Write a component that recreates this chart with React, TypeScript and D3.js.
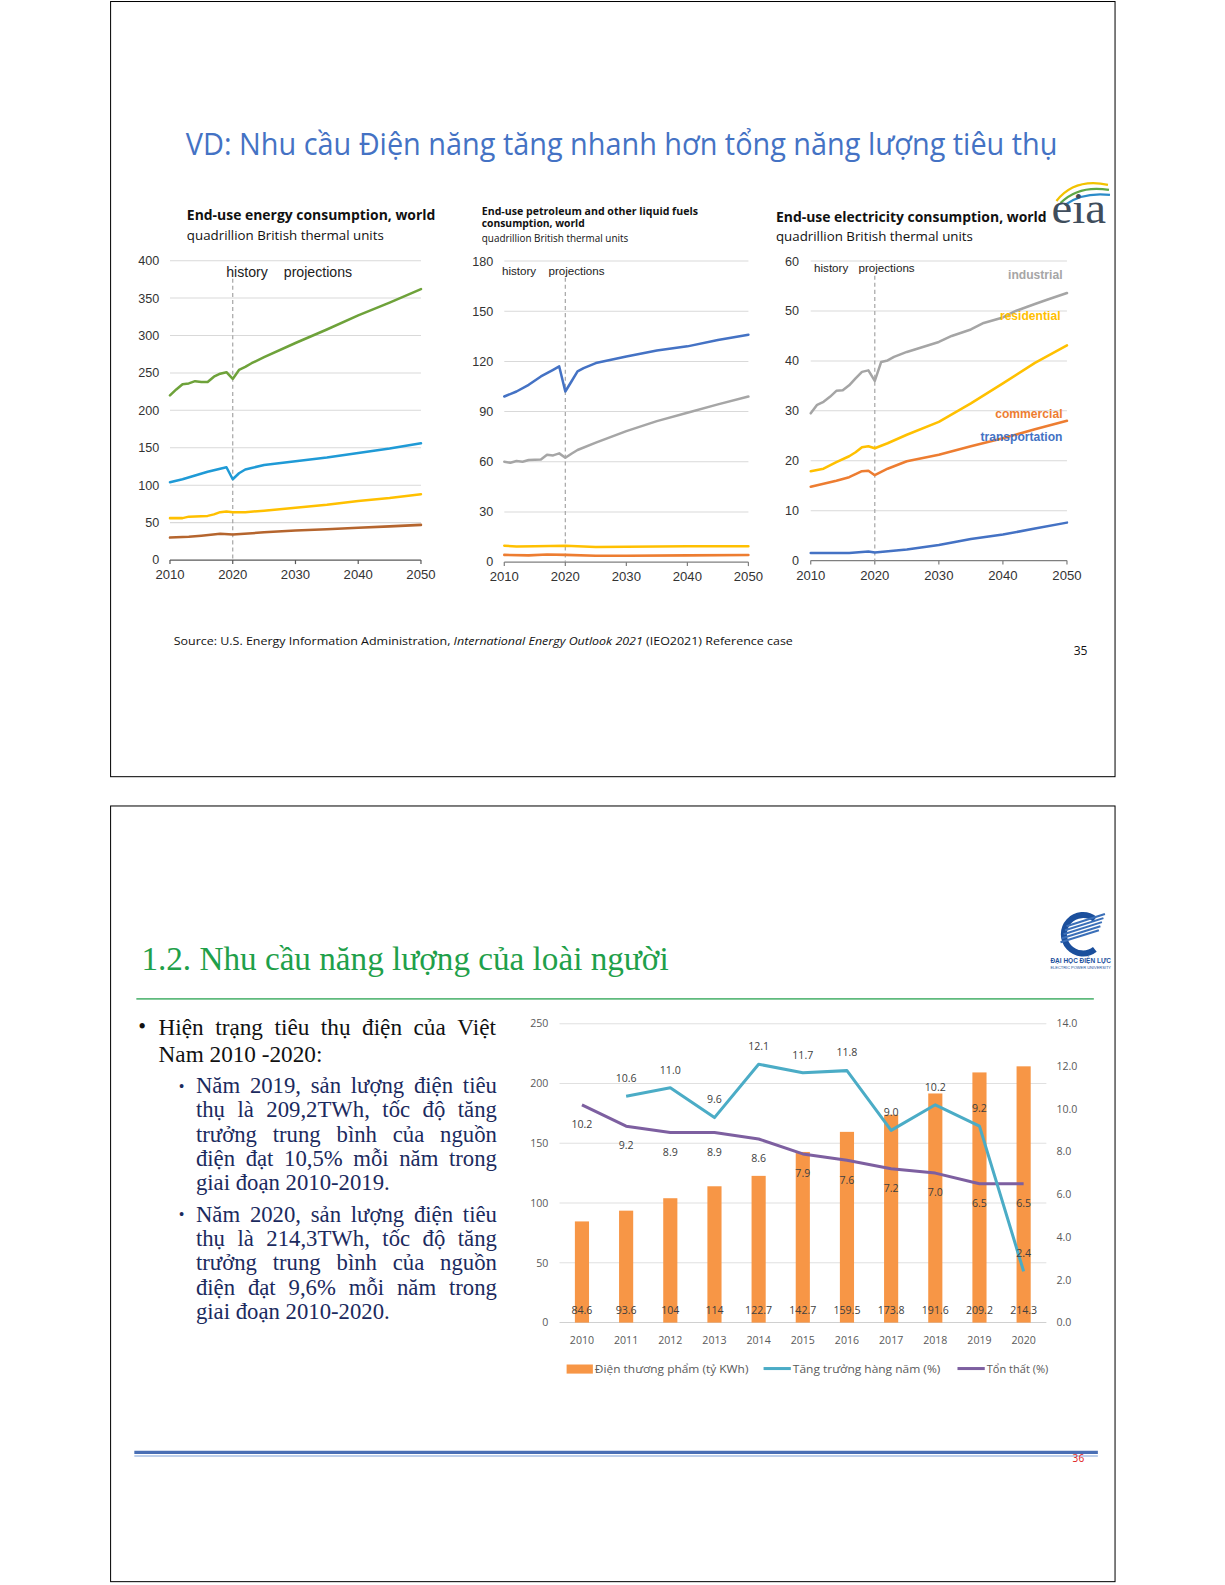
import React, { useLayoutEffect, useRef } from "react";
import * as d3 from "d3";

type Pt = [number, number];

// ---------- Slide 1 data ----------
const xTicksYears = [2010, 2020, 2030, 2040, 2050];

const c1Ticks = [0, 50, 100, 150, 200, 250, 300, 350, 400];
const c1Green: Pt[] = [[2010,220],[2011,228],[2012,235],[2013,236],[2014,239],[2015,238],[2016,238],[2017,245],[2018,249],[2019,251],[2020,242],[2021,254],[2022,258],[2023,263],[2025,271],[2030,290],[2035,308],[2040,327],[2045,344],[2050,362]];
const c1Blue: Pt[] = [[2010,104],[2012,108],[2014,113],[2016,118],[2018,122],[2019,124],[2020,108],[2021,116],[2022,121],[2023,123],[2025,127],[2030,132],[2035,137],[2040,143],[2045,149],[2050,156]];
const c1Yellow: Pt[] = [[2010,56],[2012,56],[2013,58],[2016,59],[2017,61],[2018,64],[2019,65],[2020,64],[2022,64],[2025,66],[2030,70],[2035,74],[2040,79],[2045,83],[2050,88]];
const c1Brown: Pt[] = [[2010,30],[2013,31],[2015,32.5],[2018,35],[2020,34],[2025,37],[2030,39.5],[2035,41],[2040,43],[2045,45],[2050,47]];

const c2Ticks = [0, 30, 60, 90, 120, 150, 180];
const c2Blue: Pt[] = [[2010,99],[2012,102],[2014,106],[2016,111],[2017,113],[2018,115],[2019,117],[2020,102],[2021,108],[2022,114],[2023,116],[2025,119],[2030,123],[2035,126.5],[2040,129],[2045,132.8],[2050,136]];
const c2Gray: Pt[] = [[2010,60],[2011,59.4],[2012,60.4],[2013,60],[2014,61],[2016,61.4],[2017,64.2],[2018,63.8],[2019,65],[2020,62.4],[2021,64.8],[2022,67],[2025,71.4],[2030,78.3],[2035,84.3],[2040,89.3],[2045,94.3],[2050,99]];
const c2Yellow: Pt[] = [[2010,9.8],[2012,9.3],[2015,9.4],[2020,9.8],[2025,9.0],[2030,9.2],[2040,9.4],[2050,9.5]];
const c2Orange: Pt[] = [[2010,4.3],[2014,4.0],[2017,4.5],[2020,4.3],[2025,3.8],[2030,3.8],[2040,4.0],[2050,4.2]];

const c3Ticks = [0, 10, 20, 30, 40, 50, 60];
const c3Gray: Pt[] = [[2010,29.5],[2011,31.2],[2012,31.8],[2013,32.8],[2014,34],[2015,34.1],[2016,35.1],[2017,36.5],[2018,37.8],[2019,38.1],[2020,36],[2021,39.8],[2022,40.1],[2023,40.8],[2025,41.8],[2027,42.6],[2030,43.8],[2032,45.0],[2035,46.3],[2037,47.6],[2040,48.7],[2042,50.0],[2045,51.4],[2047,52.3],[2050,53.6]];
const c3Yellow: Pt[] = [[2010,17.9],[2012,18.4],[2014,19.7],[2016,20.9],[2017,21.7],[2018,22.7],[2019,22.9],[2020,22.5],[2022,23.5],[2025,25.2],[2030,27.8],[2035,31.5],[2040,35.5],[2045,39.6],[2050,43.1]];
const c3Orange: Pt[] = [[2010,14.8],[2012,15.4],[2014,16.0],[2016,16.7],[2018,17.9],[2019,18.0],[2020,17.1],[2022,18.4],[2025,19.9],[2030,21.2],[2035,22.9],[2040,24.5],[2045,26.3],[2050,28.0]];
const c3Blue: Pt[] = [[2010,1.5],[2016,1.5],[2019,1.8],[2020,1.6],[2025,2.2],[2030,3.1],[2035,4.3],[2040,5.2],[2045,6.4],[2050,7.6]];
const c3Labels = ["industrial", "residential", "commercial", "transportation"];

// ---------- Slide 2 data ----------
const vnYears = ["2010","2011","2012","2013","2014","2015","2016","2017","2018","2019","2020"];
const vnPower = [84.6, 93.6, 104, 114, 122.7, 142.7, 159.5, 173.8, 191.6, 209.2, 214.3];
const vnGrowth: (number | null)[] = [null, 10.6, 11.0, 9.6, 12.1, 11.7, 11.8, 9.0, 10.2, 9.2, 2.4];
const vnLoss = [10.2, 9.2, 8.9, 8.9, 8.6, 7.9, 7.6, 7.2, 7.0, 6.5, 6.5];
const vnLeftTicks = [0, 50, 100, 150, 200, 250];
const vnRightTicks = [0, 2, 4, 6, 8, 10, 12, 14];
const vnLegend = ["Điện thương phẩm (tỷ KWh)", "Tăng trưởng hàng năm (%)", "Tổn thất (%)"];

const bulletMain = ["Hiện trạng tiêu thụ điện của Việt", "Nam 2010 -2020:"];
const bullet2019 = ["Năm 2019, sản lượng điện tiêu", "thụ là 209,2TWh, tốc độ tăng", "trưởng trung bình của nguồn", "điện đạt 10,5% mỗi năm trong", "giai đoạn 2010-2019."];
const bullet2020 = ["Năm 2020, sản lượng điện tiêu", "thụ là 214,3TWh, tốc độ tăng", "trưởng trung bình của nguồn", "điện đạt 9,6% mỗi năm trong", "giai đoạn 2010-2020."];

const SANS = "'Liberation Sans', Arial, sans-serif";
const CAL = "'Open Sans', sans-serif";
const SERIF = "'Liberation Serif', 'Times New Roman', serif";

type Series = { data: Pt[]; color: string };

function LineChart(props: {
  xr: [number, number]; yr: [number, number]; yMax: number; ticks: number[];
  series: Series[]; tickRight: number; axisColor: string; dashTop: number;
  hist: { x1: number; x2: number; y: number; size: number };
}) {
  const { xr, yr, yMax, ticks, series, tickRight, axisColor, dashTop, hist } = props;
  const x = d3.scaleLinear().domain([2010, 2050]).range(xr);
  const y = d3.scaleLinear().domain([0, yMax]).range(yr);
  const line = d3.line<Pt>().x(d => x(d[0])).y(d => y(d[1]));
  return (
    <g>
      {ticks.filter(t => t > 0).map(t => (
        <line key={"g" + t} x1={xr[0]} x2={xr[1]} y1={y(t)} y2={y(t)} stroke="#d9d9d9" strokeWidth={1} />
      ))}
      {ticks.map(t => (
        <text key={"t" + t} x={tickRight} y={y(t)} dy="0.35em" textAnchor="end" fontFamily={SANS} fontSize={12.5} fill="#333">{t}</text>
      ))}
      <line x1={xr[0]} x2={xr[1]} y1={y(0)} y2={y(0)} stroke={axisColor} strokeWidth={1.2} />
      {xTicksYears.map(t => (
        <line key={"xt" + t} x1={x(t)} x2={x(t)} y1={y(0)} y2={y(0) + 4} stroke={axisColor} strokeWidth={1.2} />
      ))}
      {xTicksYears.map(t => (
        <text key={"xl" + t} x={x(t)} y={y(0) + 19} textAnchor="middle" fontFamily={SANS} fontSize={13} fill="#333">{t}</text>
      ))}
      <line x1={x(2020)} x2={x(2020)} y1={dashTop} y2={y(0)} stroke="#a6a6a6" strokeWidth={1.2} strokeDasharray="4,3" />
      {series.map((s, i) => (
        <path key={"s" + i} d={line(s.data) || ""} fill="none" stroke={s.color} strokeWidth={2.5} strokeLinejoin="round" strokeLinecap="round" />
      ))}
      <text x={hist.x1} y={hist.y} fontFamily={SANS} fontSize={hist.size} fill="#222">history</text>
      <text x={hist.x2} y={hist.y} fontFamily={SANS} fontSize={hist.size} fill="#222">projections</text>
    </g>
  );
}

function TextLine(props: { x: number; y: number; width: number; text: string; justify: boolean; size: number; fill: string }) {
  const { x, y, width, text, justify, size, fill } = props;
  const ref = useRef<SVGGElement>(null);
  const words = text.split(" ");
  useLayoutEffect(() => {
    const g = ref.current;
    if (!g) return;
    const els = Array.from(g.querySelectorAll("text")) as SVGTextElement[];
    const ws = els.map(e => e.getComputedTextLength());
    const sum = ws.reduce((a, b) => a + b, 0);
    const gap = justify && ws.length > 1 ? (width - sum) / (ws.length - 1) : size * 0.25;
    let cx = x;
    els.forEach((e, i) => { e.setAttribute("x", String(cx)); cx += ws[i] + gap; });
  });
  return (
    <g ref={ref}>
      {words.map((w, i) => (
        <text key={i} x={x + i * size * 3} y={y} fontFamily={SERIF} fontSize={size} fill={fill}>{w}</text>
      ))}
    </g>
  );
}

function VNChart() {
  const x = d3.scalePoint<string>().domain(vnYears).range([576.2, 1013.5]);
  const yL = d3.scaleLinear().domain([0, 250]).range([1309.5, 1013.5]);
  const yR = d3.scaleLinear().domain([0, 14]).range([1309.5, 1013.5]);
  const f1 = d3.format(".1f");
  const barW = 14;
  const growthLine = d3.line<number | null>()
    .defined(d => d != null)
    .x((_, i) => x(vnYears[i]) as number)
    .y(d => yR(d as number));
  const lossLine = d3.line<number>().x((_, i) => x(vnYears[i]) as number).y(d => yR(d));
  const lab = { fontFamily: CAL, fontSize: 10.5, fill: "#404040", textAnchor: "middle" as const };
  return (
    <g>
      {vnLeftTicks.filter(t => t > 0).map(t => (
        <line key={"g" + t} x1={554} x2={1036} y1={yL(t)} y2={yL(t)} stroke="#e0e0e0" strokeWidth={1} />
      ))}
      <line x1={554} x2={1036} y1={yL(0)} y2={yL(0)} stroke="#d0d0d0" strokeWidth={1} />
      {vnLeftTicks.map(t => (
        <text key={"l" + t} x={543} y={yL(t)} dy="0.35em" textAnchor="end" fontFamily={CAL} fontSize={10.5} fill="#595959">{t}</text>
      ))}
      {vnRightTicks.map(t => (
        <text key={"r" + t} x={1046} y={yR(t)} dy="0.35em" fontFamily={CAL} fontSize={10.5} fill="#595959">{f1(t)}</text>
      ))}
      {vnYears.map(c => (
        <text key={"x" + c} x={x(c)} y={1331} textAnchor="middle" fontFamily={CAL} fontSize={10.5} fill="#595959">{c}</text>
      ))}
      {vnPower.map((v, i) => (
        <rect key={"b" + i} x={(x(vnYears[i]) as number) - barW / 2} y={yL(v)} width={barW} height={yL(0) - yL(v)} fill="#f79646" />
      ))}
      <path d={lossLine(vnLoss) || ""} fill="none" stroke="#7d5fa0" strokeWidth={3} strokeLinejoin="round" />
      <path d={growthLine(vnGrowth) || ""} fill="none" stroke="#4bacc6" strokeWidth={3} strokeLinejoin="round" />
      {vnPower.map((v, i) => (
        <text key={"bl" + i} x={x(vnYears[i])} y={1301} {...lab}>{String(v)}</text>
      ))}
      {vnGrowth.map((v, i) => v == null ? null : (
        <text key={"gl" + i} x={x(vnYears[i])} y={yR(v) - 14} {...lab}>{f1(v)}</text>
      ))}
      {vnLoss.map((v, i) => (
        <text key={"ll" + i} x={x(vnYears[i])} y={yR(v) + 23} {...lab}>{f1(v)}</text>
      ))}
      {/* legend */}
      <rect x={561} y={1351} width={26} height={9} fill="#f79646" />
      <text x={589} y={1359} fontFamily={CAL} fontSize={11} fill="#595959" textLength={152} lengthAdjust="spacingAndGlyphs">{vnLegend[0]}</text>
      <line x1={756} x2={783} y1={1355} y2={1355} stroke="#4bacc6" strokeWidth={3} />
      <text x={785} y={1359} fontFamily={CAL} fontSize={11} fill="#595959" textLength={146} lengthAdjust="spacingAndGlyphs">{vnLegend[1]}</text>
      <line x1={948} x2={975} y1={1355} y2={1355} stroke="#7d5fa0" strokeWidth={3} />
      <text x={977} y={1359} fontFamily={CAL} fontSize={11} fill="#595959" textLength={61} lengthAdjust="spacingAndGlyphs">{vnLegend[2]}</text>
    </g>
  );
}

function EiaLogo() {
  return (
    <g>
      <path d="M1046,199 Q1064,176 1097,183" fill="none" stroke="#f2c200" strokeWidth={2.2} />
      <path d="M1050,201 Q1068,183 1098,188" fill="none" stroke="#5ea845" strokeWidth={2.2} />
      <path d="M1054,203 Q1072,190 1099,193" fill="none" stroke="#2b8bc9" strokeWidth={2.2} />
      <text x={1041} y={221} fontFamily={SERIF} fontSize={44} fill="#3f4d5c" textLength={54} lengthAdjust="spacingAndGlyphs">eia</text>
    </g>
  );
}

function UniLogo() {
  const stripes = [0, 1, 2, 3, 4];
  return (
    <g>
      <path d="M1084,910 A19,19 0 1 0 1084,940" fill="none" stroke="#1b4f9c" strokeWidth={6} />
      {stripes.map(i => (
        <line key={i} x1={1050 + i * 1.5} y1={933 - i * 4} x2={1088 + i * 1.5} y2={921 - i * 4} stroke="#3a6fb8" strokeWidth={2} />
      ))}
      <text x={1040} y={953} fontFamily={SANS} fontSize={7} fontWeight="bold" fill="#1b4f9c" textLength={60} lengthAdjust="spacingAndGlyphs">ĐẠI HỌC ĐIỆN LỰC</text>
      <text x={1040} y={959} fontFamily={SANS} fontSize={3.5} fill="#1b4f9c" textLength={60} lengthAdjust="spacingAndGlyphs">ELECTRIC POWER UNIVERSITY</text>
    </g>
  );
}

export default function App() {
  const subSize = 22.5;
  return (
    <svg width={1225} height={1585} style={{ position: "absolute", left: 0, top: 0, background: "#fff" }}>
      <g transform="scale(1.01)">
        {/* Slide 1 */}
        <rect x={109.5} y={1.5} width={994.5} height={767.5} fill="#fff" stroke="#000" strokeWidth={1} />
        <text x={184} y={153} fontFamily={CAL} fontSize={30} fill="#4472c4" textLength={863} lengthAdjust="spacingAndGlyphs">VD: Nhu cầu Điện năng tăng nhanh hơn tổng năng lượng tiêu thụ</text>

        <text x={185} y={218} fontFamily={CAL} fontSize={14} fontWeight="bold" fill="#111" textLength={246} lengthAdjust="spacingAndGlyphs">End-use energy consumption, world</text>
        <text x={185} y={237.6} fontFamily={CAL} fontSize={13} fill="#111" textLength={195} lengthAdjust="spacingAndGlyphs">quadrillion British thermal units</text>
        <LineChart xr={[168.3, 416.8]} yr={[554.5, 258.1]} yMax={400} ticks={c1Ticks} tickRight={157.7}
          axisColor="#595959" dashTop={276}
          hist={{ x1: 224, x2: 281, y: 274, size: 14 }}
          series={[{ data: c1Brown, color: "#b5652e" }, { data: c1Yellow, color: "#ffc000" }, { data: c1Blue, color: "#1f9ad6" }, { data: c1Green, color: "#6ea23a" }]} />

        <text x={477} y={213} fontFamily={CAL} fontSize={11} fontWeight="bold" fill="#111" textLength={214} lengthAdjust="spacingAndGlyphs">End-use petroleum and other  liquid fuels</text>
        <text x={477} y={225} fontFamily={CAL} fontSize={11} fontWeight="bold" fill="#111" textLength={102} lengthAdjust="spacingAndGlyphs">consumption, world</text>
        <text x={477} y={239.3} fontFamily={CAL} fontSize={10} fill="#111" textLength={145} lengthAdjust="spacingAndGlyphs">quadrillion British thermal units</text>
        <LineChart xr={[499.3, 741]} yr={[556.5, 258.5]} yMax={180} ticks={c2Ticks} tickRight={488.5}
          axisColor="#7f7f7f" dashTop={275}
          hist={{ x1: 497, x2: 543, y: 272, size: 11.5 }}
          series={[{ data: c2Orange, color: "#ed7d31" }, { data: c2Yellow, color: "#ffc000" }, { data: c2Gray, color: "#a6a6a6" }, { data: c2Blue, color: "#4472c4" }]} />

        <text x={768.3} y={219.5} fontFamily={CAL} fontSize={14} fontWeight="bold" fill="#111" textLength={268} lengthAdjust="spacingAndGlyphs">End-use electricity consumption, world</text>
        <text x={768.3} y={238.6} fontFamily={CAL} fontSize={13} fill="#111" textLength={195} lengthAdjust="spacingAndGlyphs">quadrillion British thermal units</text>
        <LineChart xr={[802.7, 1056.4]} yr={[555, 258.5]} yMax={60} ticks={c3Ticks} tickRight={791}
          axisColor="#7f7f7f" dashTop={273}
          hist={{ x1: 806, x2: 850, y: 269, size: 11.5 }}
          series={[{ data: c3Blue, color: "#4472c4" }, { data: c3Orange, color: "#ed7d31" }, { data: c3Yellow, color: "#ffc000" }, { data: c3Gray, color: "#a5a5a5" }]} />
        <text x={1052} y={276} textAnchor="end" fontFamily={SANS} fontSize={12} fontWeight="bold" fill="#a6a6a6">{c3Labels[0]}</text>
        <text x={1050} y={317} textAnchor="end" fontFamily={SANS} fontSize={12} fontWeight="bold" fill="#ffc000">{c3Labels[1]}</text>
        <text x={1052} y={414} textAnchor="end" fontFamily={SANS} fontSize={12} fontWeight="bold" fill="#ed7d31">{c3Labels[2]}</text>
        <text x={1052} y={437} textAnchor="end" fontFamily={SANS} fontSize={12} fontWeight="bold" fill="#4472c4">{c3Labels[3]}</text>
        <EiaLogo />

        <text x={172} y={638.5} fontFamily={CAL} fontSize={11.5} fill="#111" textLength={613} lengthAdjust="spacingAndGlyphs">
          Source:  U.S. Energy Information Administration, <tspan fontStyle="italic">International Energy Outlook 2021</tspan> (IEO2021) Reference case
        </text>
        <text x={1063} y={649} fontFamily={CAL} fontSize={12} fill="#111">35</text>

        {/* Slide 2 */}
        <rect x={109.5} y={798} width={994.5} height={768} fill="#fff" stroke="#000" strokeWidth={1} />
        <text x={140} y={960} fontFamily={SERIF} fontSize={33} fill="#1fa04a" textLength={522} lengthAdjust="spacingAndGlyphs">1.2. Nhu cầu năng lượng của loài người</text>
        <line x1={135} x2={1083} y1={989} y2={989} stroke="#5fba7d" strokeWidth={1.8} />
        <UniLogo />

        <text x={137} y={1024} fontFamily={SERIF} fontSize={22} fill="#111">•</text>
        <TextLine x={157} y={1025} width={334} text={bulletMain[0]} justify={true} size={23} fill="#111" />
        <TextLine x={157} y={1051} width={334} text={bulletMain[1]} justify={false} size={23} fill="#111" />

        <text x={177} y={1081} fontFamily={SERIF} fontSize={16} fill="#1b2a5e">•</text>
        {bullet2019.map((t, i) => (
          <TextLine key={"a" + i} x={194} y={1082 + i * 24.1} width={298} text={t} justify={i < bullet2019.length - 1} size={subSize} fill="#1b2a5e" />
        ))}
        <text x={177} y={1208} fontFamily={SERIF} fontSize={16} fill="#1b2a5e">•</text>
        {bullet2020.map((t, i) => (
          <TextLine key={"b" + i} x={194} y={1209.5 + i * 24.1} width={298} text={t} justify={i < bullet2020.length - 1} size={subSize} fill="#1b2a5e" />
        ))}

        <VNChart />

        <line x1={133} x2={1087} y1={1438} y2={1438} stroke="#4a6fb5" strokeWidth={3} />
        <line x1={133} x2={1087} y1={1441.5} y2={1441.5} stroke="#a8c0e4" strokeWidth={1.5} />
        <text x={1062} y={1448} fontFamily={CAL} fontSize={10} fill="#e02020">36</text>
      </g>
    </svg>
  );
}
